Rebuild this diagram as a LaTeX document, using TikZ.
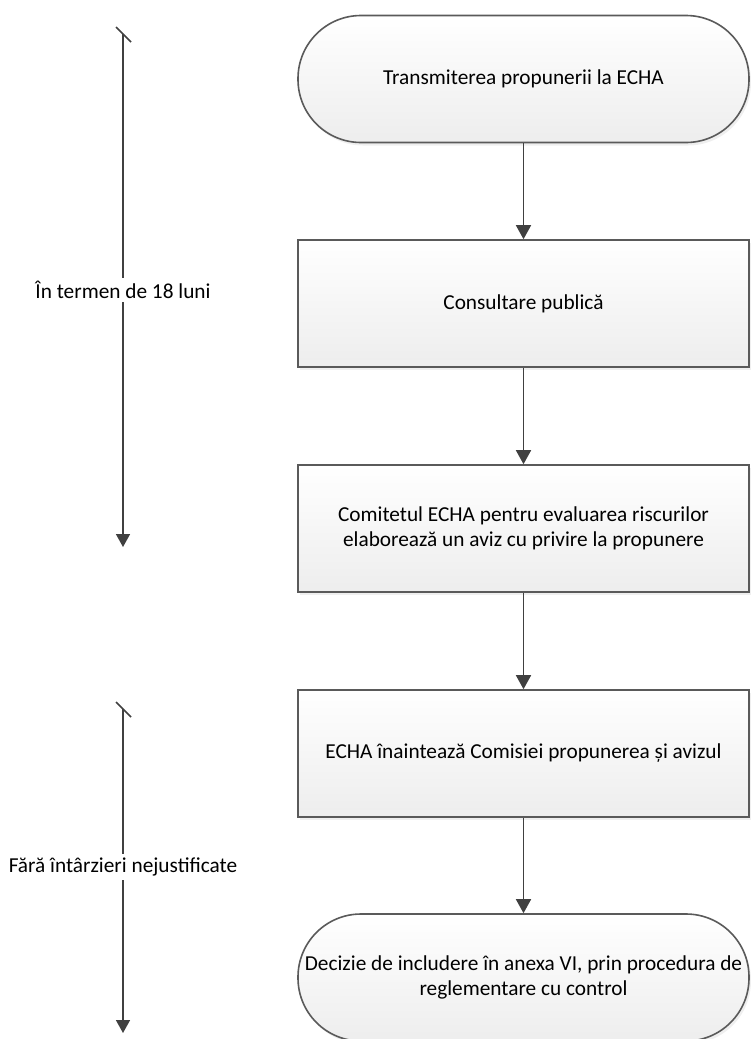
\documentclass[tikz,border=0pt]{standalone}
\usepackage{fontspec}
\setmainfont{Carlito}
\usetikzlibrary{arrows.meta,shadows}
\definecolor{edgegray}{HTML}{5A5A5A}
\definecolor{conngray}{HTML}{404040}
\begin{document}
\begin{tikzpicture}[x=1pt,y=-1pt,
  box/.style={draw=edgegray,line width=1.6pt,top color=white,bottom color=black!7,
    minimum width=451pt,minimum height=127pt,inner sep=0pt,align=center,
    font=\fontsize{21.3}{25}\selectfont,
    drop shadow={shadow xshift=2pt,shadow yshift=-3pt,fill=black!12,opacity=0.5}},
  term/.style={box,rounded corners=63pt},
  flow/.style={draw=conngray,line width=1.6pt,-{Triangle[length=14pt,width=15pt]}},
  span/.style={draw=conngray,line width=1.6pt,-{Triangle[length=13pt,width=14pt]}},
  tick/.style={draw=conngray,line width=1.6pt},
  spanlabel/.style={fill=white,inner sep=4pt,font=\fontsize{21.3}{25}\selectfont}]
\useasboundingbox (0,0) rectangle (750,1039);

\node[term] (b1) at (523.5,79) {Transmiterea propunerii la ECHA};
\node[box]  (b2) at (523.5,303.5) {Consultare publică};
\node[box]  (b3) at (523.5,528.5) {Comitetul ECHA pentru evaluarea riscurilor\\elaborează un aviz cu privire la propunere};
\node[box]  (b4) at (523.5,753.5) {ECHA înaintează Comisiei propunerea și avizul};
\node[term] (b5) at (523.5,977.5) {Decizie de includere în anexa VI, prin procedura de\\reglementare cu control};

\draw[flow] (b1.south) -- (b2.north);
\draw[flow] (b2.south) -- (b3.north);
\draw[flow] (b3.south) -- (b4.north);
\draw[flow] (b4.south) -- (b5.north);

% first time span
\coordinate (s1a) at (123,34);
\coordinate (s1b) at (123,547);
\draw[span] (s1a) -- (s1b);
\draw[tick] ([shift={(-7,-7)}]s1a) -- ([shift={(8,8)}]s1a);
\node[spanlabel,inner sep=3pt] (l1) at (123,290) {În termen de 18 luni};

% second time span
\coordinate (s2a) at (123,709);
\coordinate (s2b) at (123,1033);
\draw[span] (s2a) -- (s2b);
\draw[tick] ([shift={(-7,-7)}]s2a) -- ([shift={(8,8)}]s2a);
\node[spanlabel] (l2) at (123,867) {Fără întârzieri nejustificate};
\end{tikzpicture}
\end{document}
